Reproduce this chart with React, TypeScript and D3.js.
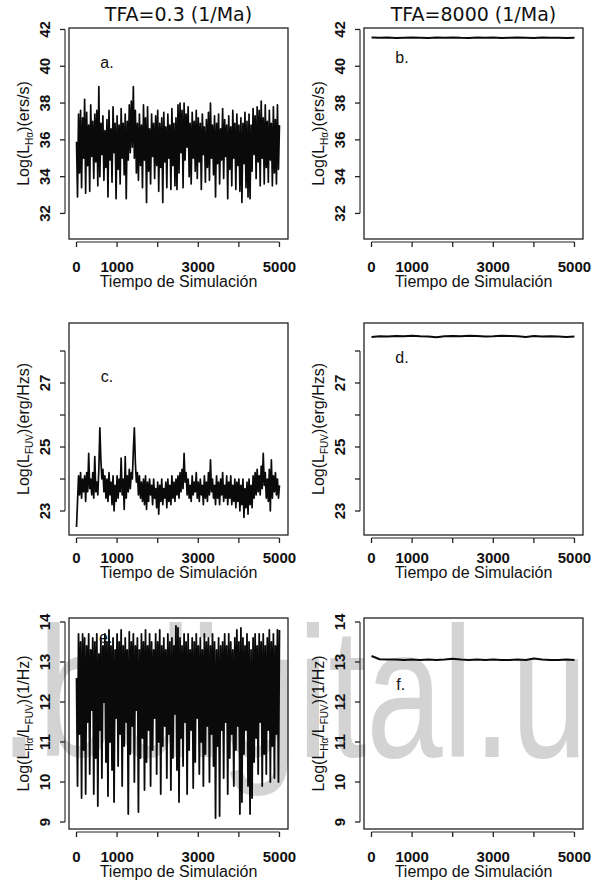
import React from "react";
import * as d3 from "d3";

// ---------- text ----------
const titles = ["TFA=0.3 (1/Ma)", "TFA=8000 (1/Ma)"];
const xLabel = "Tiempo de Simulación";
const watermark = ".bdigital.ula.ve";

// ---------- ticks ----------
const xTicks = [0, 1000, 2000, 3000, 4000, 5000];
const xTickLabels = ["0", "1000", "", "3000", "", "5000"];
const yTicksHa = [32, 34, 36, 38, 40, 42];
const yTickLabelsHa = ["32", "34", "36", "38", "40", "42"];
const yTicksFuv = [23, 24, 25, 26, 27, 28];
const yTickLabelsFuv = ["23", "", "25", "", "27", ""];
const yTicksRatio = [9, 10, 11, 12, 13, 14];
const yTickLabelsRatio = ["9", "10", "11", "12", "13", "14"];

// ---------- time grids ----------
const timeDense = d3.range(0, 5001, 25); // 201 steps
const timeSparse = d3.range(0, 5001, 200); // 26 steps

// ---------- series ----------
const haTFA03 = [
  35.9, 32.9, 37.4, 34.2, 37.6, 33.4, 37.2, 35.0, 38.2, 33.1,
  37.5, 34.6, 36.8, 33.2, 37.9, 35.1, 37.0, 33.9, 37.4, 34.8,
  37.6, 33.5, 38.9, 34.0, 36.9, 35.2, 37.3, 33.8, 36.5, 34.5,
  37.1, 32.9, 37.6, 34.9, 36.6, 33.7, 37.8, 35.3, 36.9, 32.8,
  37.3, 34.4, 36.8, 33.6, 37.7, 35.0, 36.9, 34.1, 37.4, 32.8,
  37.0, 34.9, 37.9, 35.3, 38.1, 35.6, 38.9, 35.0, 37.6, 34.2,
  36.9, 33.8, 37.4, 34.6, 36.8, 33.4, 37.9, 34.9, 37.2, 32.6,
  37.8, 34.3, 36.6, 33.6, 37.4, 35.1, 36.9, 33.9, 37.3, 34.6,
  37.6, 33.2, 36.9, 34.5, 37.2, 32.6, 37.5, 34.8, 36.7, 33.4,
  37.4, 35.0, 36.8, 33.3, 37.7, 34.6, 36.9, 33.5, 37.2, 33.3,
  37.9, 34.2, 38.0, 35.3, 37.6, 33.4, 38.0, 34.9, 37.4, 35.6,
  37.8, 34.0, 36.9, 33.6, 37.5, 35.0, 37.0, 34.3, 37.6, 33.9,
  37.2, 34.8, 36.9, 33.3, 37.4, 35.2, 36.7, 33.7, 37.1, 34.5,
  37.5, 33.8, 38.0, 35.0, 36.8, 34.1, 37.3, 32.9, 36.9, 34.7,
  37.4, 33.6, 36.6, 34.9, 37.7, 33.9, 37.1, 35.1, 36.8, 32.8,
  37.3, 34.4, 36.7, 33.5, 37.6, 35.0, 36.9, 33.3, 37.4, 34.6,
  36.8, 33.2, 37.2, 32.6, 36.9, 34.7, 37.5, 33.4, 37.0, 32.9,
  37.4, 32.8, 36.8, 34.3, 37.7, 35.2, 37.3, 33.9, 37.8, 34.8,
  37.6, 33.5, 38.1, 35.0, 37.2, 33.6, 37.9, 34.5, 37.0, 33.7,
  37.6, 34.9, 36.9, 33.5, 37.8, 34.2, 37.1, 33.6, 37.9, 34.4,
  36.8,
];

const haTFA8000 = [
  41.57, 41.55, 41.56, 41.54, 41.55, 41.56, 41.55, 41.54, 41.56, 41.55,
  41.57, 41.55, 41.54, 41.56, 41.55, 41.56, 41.54, 41.55, 41.56, 41.55,
  41.54, 41.56, 41.55, 41.55, 41.54, 41.55,
];

const fuvTFA03 = [
  22.5, 23.3, 24.1, 23.5, 24.2, 23.4, 24.0, 23.6, 24.1, 23.3,
  24.2, 23.6, 24.8, 23.7, 24.0, 23.5, 24.2, 23.4, 24.7, 23.6,
  23.9, 23.5, 24.3, 25.6, 24.6, 24.0, 24.3, 23.6, 24.1, 23.4,
  24.0, 23.3, 24.2, 23.5, 23.9, 23.2, 24.1, 23.0, 23.8, 23.3,
  24.1, 23.4, 24.0, 23.6, 24.65, 23.5, 24.0, 23.05, 24.7, 23.4,
  24.1, 23.6, 24.3, 23.7, 24.2, 24.0, 24.9, 25.6, 24.5, 23.9,
  24.2, 23.5, 24.1, 23.4, 23.9, 23.3, 24.0, 23.2, 24.1, 23.05,
  23.9, 23.3, 24.0, 23.5, 23.8, 23.2, 24.0, 23.4, 23.7, 23.1,
  23.9, 22.9, 23.8, 23.3, 24.0, 23.2, 23.7, 23.4, 23.9, 23.1,
  24.0, 23.3, 23.8, 23.2, 24.1, 23.4, 23.9, 23.3, 24.0, 23.5,
  24.1, 23.4, 24.2, 23.6, 24.3, 23.7, 24.8, 23.9, 24.2, 23.5,
  24.0, 23.4, 23.8, 23.3, 24.1, 23.5, 23.9, 23.6, 24.2, 23.4,
  23.9, 23.3, 24.0, 23.5, 23.8, 23.2, 24.1, 23.4, 23.9, 23.3,
  24.2, 23.5, 24.6, 23.6, 24.0, 23.4, 23.8, 23.2, 24.1, 23.4,
  23.9, 23.2, 24.0, 23.5, 24.2, 23.3, 23.8, 23.4, 24.1, 23.2,
  23.9, 23.4, 24.1, 23.2, 23.8, 23.3, 24.0, 23.1, 23.9, 23.3,
  24.0, 23.0, 23.8, 23.2, 24.0, 22.8, 23.7, 23.1, 23.9, 22.9,
  24.0, 23.2, 23.8, 23.1, 24.1, 23.4, 24.2, 23.5, 24.3, 23.6,
  24.1, 23.5, 24.4, 23.7, 24.8, 23.8, 24.2, 23.4, 24.0, 23.3,
  24.3, 23.0, 24.6, 23.4, 24.1, 23.6, 24.2, 23.5, 24.0, 23.4,
  23.8,
];

const fuvTFA8000 = [
  28.44, 28.46, 28.45, 28.47, 28.46, 28.48, 28.46, 28.45, 28.43, 28.46,
  28.47, 28.46, 28.48, 28.47, 28.45, 28.46, 28.48, 28.47, 28.46, 28.44,
  28.47, 28.45, 28.46, 28.45, 28.44, 28.45,
];

const ratioTFA03 = [
  12.6, 9.9, 13.7, 11.2, 13.5, 9.6, 13.7, 10.8, 13.6, 9.7,
  13.4, 11.5, 13.7, 10.2, 13.3, 11.8, 13.6, 9.7, 13.5, 10.6,
  13.7, 9.4, 13.2, 11.3, 13.6, 10.1, 13.4, 12.0, 13.7, 10.5,
  13.5, 9.65, 13.8, 11.0, 13.4, 10.3, 13.6, 9.5, 13.3, 11.6,
  13.7, 10.4, 13.5, 11.2, 13.8, 9.9, 13.4, 10.9, 13.6, 11.5,
  13.3, 9.2, 13.75, 10.7, 13.5, 11.4, 13.7, 10.0, 13.4, 11.8,
  13.6, 9.25, 13.3, 10.6, 13.7, 11.1, 13.5, 9.8, 13.8, 10.5,
  13.4, 11.3, 13.7, 9.9, 13.5, 10.8, 13.3, 11.6, 13.7, 10.2,
  13.5, 11.0, 13.8, 9.7, 13.4, 10.9, 13.6, 11.4, 13.3, 10.1,
  13.7, 11.2, 13.5, 9.8, 13.6, 10.6, 13.4, 11.7, 13.9, 10.3,
  13.85, 9.5, 13.6, 11.1, 13.4, 10.4, 13.7, 11.5, 13.5, 9.7,
  13.7, 10.8, 13.3, 11.3, 13.6, 9.85, 13.5, 10.5, 13.7, 11.6,
  13.4, 10.2, 13.6, 11.0, 13.3, 9.9, 13.7, 10.7, 13.5, 11.4,
  13.6, 10.0, 13.4, 11.2, 13.7, 10.4, 13.5, 9.1, 13.3, 10.9,
  13.6, 9.15, 13.4, 11.3, 13.5, 10.1, 13.7, 11.5, 13.4, 9.7,
  13.7, 10.6, 13.5, 11.2, 13.3, 9.9, 13.6, 10.8, 13.8, 11.4,
  13.5, 9.2, 13.85, 9.5, 13.6, 10.7, 13.4, 11.3, 13.7, 9.9,
  13.5, 9.2, 13.3, 9.6, 13.6, 10.5, 13.7, 11.1, 13.4, 10.2,
  13.7, 11.5, 13.5, 9.9, 13.7, 10.7, 13.4, 10.2, 13.6, 11.3,
  13.8, 10.0, 13.5, 10.9, 13.7, 10.1, 13.4, 11.2, 13.8, 10.0,
  13.8,
];

const ratioTFA8000 = [
  13.15, 13.07, 13.06, 13.06, 13.05, 13.06, 13.05, 13.06, 13.05, 13.06,
  13.08, 13.06, 13.05, 13.06, 13.05, 13.06, 13.05, 13.05, 13.06, 13.05,
  13.09, 13.06, 13.05, 13.05, 13.06, 13.05,
];

// ---------- layout ----------
const COL_LEFT = [69, 364];
const ROW_TOP = [28, 323, 618];
const ROW_H = [211, 212, 211];
const PLOT_W = 219;
const X_DOMAIN: [number, number] = [-185, 5210];
const TICK_LABEL_OFFSET = [33, 28, 33];
const FONT = "'Liberation Sans', Arial, Helvetica, sans-serif";

type YLabelPart = { t: string; sub?: boolean };
const yLabelHa: YLabelPart[] = [{ t: "Log(L" }, { t: "Hα", sub: true }, { t: ")(ers/s)" }];
const yLabelFuv: YLabelPart[] = [{ t: "Log(L" }, { t: "FUV", sub: true }, { t: ")(erg/Hzs)" }];
const yLabelRatio: YLabelPart[] = [
  { t: "Log(L" }, { t: "Hα", sub: true }, { t: "/L" }, { t: "FUV", sub: true }, { t: ")(1/Hz)" },
];

type PanelSpec = {
  col: number;
  row: number;
  times: number[];
  values: number[];
  yDomain: [number, number];
  yTicks: number[];
  yTickLabels: string[];
  yLabel: YLabelPart[];
  lineWidth: number;
  letter: string;
  letterAt: [number, number];
};

const panels: PanelSpec[] = [
  { col: 0, row: 0, times: timeDense, values: haTFA03, yDomain: [30.61, 42.08], yTicks: yTicksHa, yTickLabels: yTickLabelsHa, yLabel: yLabelHa, lineWidth: 1.7, letter: "a.", letterAt: [750, 40.2] },
  { col: 1, row: 0, times: timeSparse, values: haTFA8000, yDomain: [30.61, 42.08], yTicks: yTicksHa, yTickLabels: yTickLabelsHa, yLabel: yLabelHa, lineWidth: 2, letter: "b.", letterAt: [750, 40.45] },
  { col: 0, row: 1, times: timeDense, values: fuvTFA03, yDomain: [22.25, 28.875], yTicks: yTicksFuv, yTickLabels: yTickLabelsFuv, yLabel: yLabelFuv, lineWidth: 1.7, letter: "c.", letterAt: [750, 27.2] },
  { col: 1, row: 1, times: timeSparse, values: fuvTFA8000, yDomain: [22.25, 28.875], yTicks: yTicksFuv, yTickLabels: yTickLabelsFuv, yLabel: yLabelFuv, lineWidth: 2, letter: "d.", letterAt: [750, 27.8] },
  { col: 0, row: 2, times: timeDense, values: ratioTFA03, yDomain: [8.825, 14.1], yTicks: yTicksRatio, yTickLabels: yTickLabelsRatio, yLabel: yLabelRatio, lineWidth: 1.8, letter: "e.", letterAt: [720, 13.62] },
  { col: 1, row: 2, times: timeSparse, values: ratioTFA8000, yDomain: [8.825, 14.1], yTicks: yTicksRatio, yTickLabels: yTickLabelsRatio, yLabel: yLabelRatio, lineWidth: 2, letter: "f.", letterAt: [720, 12.45] },
];

function Panel({ p }: { p: PanelSpec }) {
  const left = COL_LEFT[p.col];
  const top = ROW_TOP[p.row];
  const h = ROW_H[p.row];
  const x = d3.scaleLinear().domain(X_DOMAIN).range([left, left + PLOT_W]);
  const y = d3.scaleLinear().domain(p.yDomain).range([top + h, top]);
  const line = d3
    .line<number>()
    .x((_, i) => x(p.times[i]))
    .y((d) => y(d));
  const axisY = top + h + 3;
  const axisX = left - 4;
  const tickBase = top + h + TICK_LABEL_OFFSET[p.row];
  const yTickX = left - 19;
  const yLabelX = left - 40;
  const yMid = top + h / 2;
  return (
    <g>
      <path d={line(p.values) || ""} fill="none" stroke="#0a0a0a" strokeWidth={p.lineWidth} strokeLinejoin="round" />
      <rect x={left} y={top} width={PLOT_W} height={h} fill="none" stroke="#222" strokeWidth={1.3} />
      {/* x axis */}
      <line x1={x(xTicks[0])} x2={x(xTicks[xTicks.length - 1])} y1={axisY} y2={axisY} stroke="#222" strokeWidth={1.1} />
      {xTicks.map((t, i) => (
        <g key={"xt" + i}>
          <line x1={x(t)} x2={x(t)} y1={axisY} y2={axisY + 5} stroke="#222" strokeWidth={1.3} />
          {xTickLabels[i] && (
            <text x={x(t)} y={tickBase} textAnchor="middle" fontFamily={FONT} fontWeight="bold" fontSize={15} fill="#111">
              {xTickLabels[i]}
            </text>
          )}
        </g>
      ))}
      <text x={left + PLOT_W / 2} y={tickBase + 15} textAnchor="middle" fontFamily={FONT} fontSize={16} fill="#111">
        {xLabel}
      </text>
      {/* y axis */}
      <line x1={axisX} x2={axisX} y1={y(p.yTicks[0])} y2={y(p.yTicks[p.yTicks.length - 1])} stroke="#222" strokeWidth={1.1} />
      {p.yTicks.map((v, i) => (
        <g key={"yt" + i}>
          <line x1={axisX - 5} x2={axisX} y1={y(v)} y2={y(v)} stroke="#222" strokeWidth={1.3} />
          {p.yTickLabels[i] && (
            <text
              transform={`translate(${yTickX},${y(v)}) rotate(-90)`}
              textAnchor="middle"
              fontFamily={FONT}
              fontWeight="bold"
              fontSize={15}
              fill="#111"
            >
              {p.yTickLabels[i]}
            </text>
          )}
        </g>
      ))}
      <text transform={`translate(${yLabelX},${yMid}) rotate(-90)`} textAnchor="middle" fontFamily={FONT} fontSize={16} fill="#111">
        {p.yLabel.map((part, i) =>
          part.sub ? (
            <tspan key={i} fontSize={10} dy={4}>
              {part.t}
            </tspan>
          ) : (
            <tspan key={i} dy={i > 0 && p.yLabel[i - 1].sub ? -4 : 0}>
              {part.t}
            </tspan>
          )
        )}
      </text>
      <text
        x={x(p.letterAt[0])}
        y={y(p.letterAt[1])}
        textAnchor="middle"
        dominantBaseline="central"
        fontFamily={FONT}
        fontSize={16}
        fill="#111"
      >
        {p.letter}
      </text>
    </g>
  );
}

export default function App() {
  return (
    <svg
      width={595}
      height={882}
      viewBox="0 0 595 882"
      style={{ position: "absolute", left: 0, top: 0, background: "#fff" }}
    >
      <rect x={0} y={0} width={595} height={882} fill="#fff" />
      <g transform="scale(0.742,1)">
        <text x={0} y={757} fontFamily={FONT} fontSize={185} fill="#d3d3d3">
          {watermark}
        </text>
      </g>
      {titles.map((t, i) => (
        <text
          key={t}
          x={COL_LEFT[i] + PLOT_W / 2}
          y={21}
          textAnchor="middle"
          fontFamily="'DejaVu Sans', sans-serif"
          fontSize={19}
          fill="#111"
        >
          {t}
        </text>
      ))}
      {panels.map((p) => (
        <Panel key={p.letter} p={p} />
      ))}
    </svg>
  );
}
